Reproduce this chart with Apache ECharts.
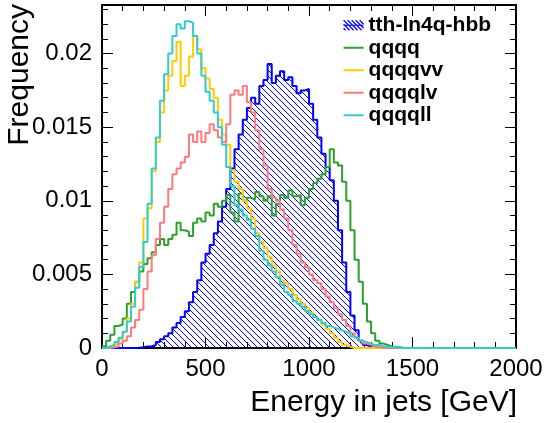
<!DOCTYPE html>
<html>
<head>
<meta charset="utf-8">
<script src="https://cdn.jsdelivr.net/npm/echarts@6/dist/echarts.min.js"></script>
<style>
html, body { margin: 0; padding: 0; background: #fff; }
#chart { width: 547px; height: 423px; }
</style>
</head>
<body>
<div id="chart"></div>
<script>
// histograms, 20 GeV bins from 0 to 2000 GeV
var binWidth = 20;

var tthLn4qHbb = [
    0, 0, 0, 0, 0, 0, 0, 0, 0.00002, 0.00005,
    0.0001, 0.0001, 0.0002, 0.0004, 0.0006, 0.0008, 0.0010, 0.0014, 0.0017, 0.0021,
    0.0025, 0.0031, 0.0038, 0.0046, 0.0058, 0.0064, 0.0070, 0.0078, 0.0086, 0.0096,
    0.0108, 0.0122, 0.0135, 0.0145, 0.0155, 0.0163, 0.0170, 0.0166, 0.0178, 0.0182,
    0.0193, 0.0180, 0.0185, 0.0188, 0.0182, 0.0184, 0.0178, 0.0173, 0.0175, 0.0176,
    0.0166, 0.0155, 0.0143, 0.0132, 0.0123, 0.0114, 0.0100, 0.0080, 0.0058, 0.0038,
    0.0022, 0.0012, 0.0005, 0.0002, 0.0001, 0, 0, 0, 0, 0,
    0, 0, 0, 0, 0, 0, 0, 0, 0, 0,
    0, 0, 0, 0, 0, 0, 0, 0, 0, 0,
    0, 0, 0, 0, 0, 0, 0, 0, 0, 0
];

var qqqq = [
    0.0001, 0.0005, 0.0009, 0.0015, 0.0016, 0.0020, 0.0030, 0.0038, 0.0045, 0.0052,
    0.0057, 0.0061, 0.0065, 0.0070, 0.0074, 0.0070, 0.0074, 0.0077, 0.0085, 0.0080,
    0.0079, 0.0076, 0.0085, 0.0088, 0.0086, 0.0092, 0.0090, 0.0098, 0.0096, 0.0100,
    0.0104, 0.0092, 0.0086, 0.0105, 0.0100, 0.0102, 0.0101, 0.0106, 0.0103, 0.0100,
    0.0103, 0.0090, 0.0098, 0.0104, 0.0102, 0.0107, 0.0103, 0.0104, 0.0097, 0.0102,
    0.0108, 0.0112, 0.0115, 0.0118, 0.0123, 0.0135, 0.0126, 0.0124, 0.0113, 0.0100,
    0.0080, 0.0060, 0.0045, 0.0030, 0.0018, 0.0010, 0.0005, 0.0003, 0.0002, 0.0001,
    0.00005, 0.00005, 0, 0, 0, 0, 0, 0, 0, 0,
    0, 0, 0, 0, 0, 0, 0, 0, 0, 0,
    0, 0, 0, 0, 0, 0, 0, 0, 0, 0
];

var qqqqvv = [
    0, 0.0001, 0.0002, 0.0003, 0.0006, 0.0011, 0.0020, 0.0030, 0.0045, 0.0058,
    0.0088, 0.0095, 0.0120, 0.0140, 0.0160, 0.0175, 0.0185, 0.0195, 0.0208, 0.0178,
    0.0185, 0.0198, 0.0212, 0.0203, 0.0190, 0.0183, 0.0176, 0.0170, 0.0155, 0.0145,
    0.0138, 0.0121, 0.0113, 0.0108, 0.0100, 0.0095, 0.0088, 0.0078, 0.0072, 0.0068,
    0.0062, 0.0056, 0.0052, 0.0046, 0.0044, 0.0040, 0.0036, 0.0033, 0.0030, 0.0027,
    0.0024, 0.0021, 0.0019, 0.0016, 0.0013, 0.0010, 0.0007, 0.0004, 0.0002, 0.0001,
    0, 0, 0, 0, 0, 0, 0, 0, 0, 0,
    0, 0, 0, 0, 0, 0, 0, 0, 0, 0,
    0, 0, 0, 0, 0, 0, 0, 0, 0, 0,
    0, 0, 0, 0, 0, 0, 0, 0, 0, 0
];

var qqqqlv = [
    0, 0, 0.00005, 0.0001, 0.0003, 0.0005, 0.0008, 0.0014, 0.0019, 0.0026,
    0.0040, 0.0052, 0.0063, 0.0074, 0.0085, 0.0096, 0.0108, 0.0118, 0.0122, 0.0126,
    0.0130, 0.0145, 0.0140, 0.0147, 0.0140, 0.0146, 0.0152, 0.0148, 0.0143, 0.0140,
    0.0152, 0.0172, 0.0175, 0.0172, 0.0178, 0.0167, 0.0160, 0.0148, 0.0135, 0.0124,
    0.0108, 0.0102, 0.0100, 0.0094, 0.0088, 0.0080, 0.0070, 0.0064, 0.0058, 0.0055,
    0.0050, 0.0046, 0.0044, 0.0040, 0.0035, 0.0031, 0.0027, 0.0023, 0.0019, 0.0015,
    0.0010, 0.0007, 0.0005, 0.0003, 0.0002, 0.0001, 0.00005, 0, 0, 0,
    0, 0, 0, 0, 0, 0, 0, 0, 0, 0,
    0, 0, 0, 0, 0, 0, 0, 0, 0, 0,
    0, 0, 0, 0, 0, 0, 0, 0, 0, 0
];

var qqqqll = [
    0, 0.0001, 0.0002, 0.0004, 0.0007, 0.0011, 0.0018, 0.0028, 0.0041, 0.0055,
    0.0072, 0.0098, 0.0122, 0.0143, 0.0168, 0.0186, 0.0200, 0.0212, 0.0220, 0.0217,
    0.0222, 0.0221, 0.0212, 0.0200, 0.0185, 0.0174, 0.0168, 0.0160, 0.0150, 0.0138,
    0.0123, 0.0110, 0.0097, 0.0094, 0.0090, 0.0087, 0.0081, 0.0076, 0.0066, 0.0060,
    0.0056, 0.0052, 0.0048, 0.0043, 0.0038, 0.0036, 0.0032, 0.0030, 0.0028, 0.0025,
    0.0023, 0.0021, 0.0019, 0.0017, 0.0015, 0.0014, 0.0013, 0.0012, 0.0011, 0.0010,
    0.0008, 0.0007, 0.0005, 0.0004, 0.0003, 0.0002, 0.0002, 0.0001, 0.0001, 0.00005,
    0.00005, 0, 0, 0, 0, 0, 0, 0, 0, 0,
    0, 0, 0, 0, 0, 0, 0, 0, 0, 0,
    0, 0, 0, 0, 0, 0, 0, 0, 0, 0
];

var xTicks = {min: 0, max: 2000, interval: 500};
var yTicks = {min: 0, max: 0.0233, interval: 0.005};

var font = "'Liberation Sans', Arial, Helvetica, sans-serif";

// bin values -> points at bin edges, drawn as steps
function toSteps(values) {
    var pts = values.map(function (v, i) { return [i * binWidth, v]; });
    pts.push([values.length * binWidth, values[values.length - 1]]);
    return pts;
}

// blue "\\\" hatching like ROOT fill style 3005
var hatch = document.createElement('canvas');
hatch.width = 6;
hatch.height = 6;
var hctx = hatch.getContext('2d');
hctx.strokeStyle = '#0000ff';
hctx.lineWidth = 1;
hctx.beginPath();
[-6, 0, 6].forEach(function (c) {
    hctx.moveTo(c, 0);
    hctx.lineTo(c + 6, 6);
});
hctx.stroke();

function makeAxis(pos, range, showLabels, isX) {
    return {
        type: 'value',
        position: pos,
        min: range.min,
        max: range.max,
        interval: range.interval,
        axisLine: {show: true, onZero: false, lineStyle: {color: '#000', width: 2}},
        axisTick: {show: true, inside: true, length: 11, lineStyle: {color: '#000', width: 1}},
        minorTick: {show: true, splitNumber: 5, length: 6, lineStyle: {color: '#000', width: 1}},
        splitLine: {show: false},
        minorSplitLine: {show: false},
        axisLabel: {
            show: showLabels,
            showMaxLabel: isX ? true : false,
            color: '#000',
            fontSize: 24,
            fontFamily: font,
            margin: isX ? 9 : 10,
            formatter: function (v) { return String(v); }
        }
    };
}

function histSeries(name, values, color) {
    return {
        name: name,
        type: 'line',
        step: 'end',
        symbol: 'none',
        showSymbol: false,
        data: toSteps(values),
        lineStyle: {color: color, width: 2},
        itemStyle: {color: color},
        emphasis: {disabled: true}
    };
}

var lineIcon = 'path://M0,0 L20,0 L20,2 L0,2 Z';
var hatchIcon = 'path://M0,8 L2,10 M0,4 L6,10 M0,0 L10,10 M4,0 L14,10 M8,0 L18,10 M12,0 L20,8 M16,0 L20,4 M0,5 L20,5';

var myChart = echarts.init(document.getElementById('chart'));

var blue = histSeries('tth-ln4q-hbb', tthLn4qHbb, '#0000ff');
blue.areaStyle = {color: {image: hatch, repeat: 'repeat'}, opacity: 1};

var option = {
    animation: false,
    backgroundColor: '#fff',
    grid: {left: 102, right: 31, top: 5, bottom: 75, containLabel: false},
    xAxis: [makeAxis('bottom', xTicks, true, true), makeAxis('top', xTicks, false, true)],
    yAxis: [makeAxis('left', yTicks, true, false), makeAxis('right', yTicks, false, false)],
    legend: {
        orient: 'vertical',
        left: 343,
        top: 14,
        padding: 0,
        itemGap: 0,
        itemWidth: 20,
        itemHeight: 10,
        selectedMode: false,
        itemStyle: {borderWidth: 0},
        textStyle: {fontSize: 21, fontWeight: 'bold', fontFamily: font, color: '#000', lineHeight: 22.5},
        data: [
            {name: 'tth-ln4q-hbb', icon: hatchIcon,
             itemStyle: {color: 'transparent', borderColor: '#0000ff', borderWidth: 1.2}},
            {name: 'qqqq', icon: lineIcon},
            {name: 'qqqqvv', icon: lineIcon},
            {name: 'qqqqlv', icon: lineIcon},
            {name: 'qqqqll', icon: lineIcon}
        ]
    },
    graphic: [
        {
            type: 'text',
            x: 517,
            y: 403,
            style: {text: 'Energy in jets [GeV]', font: '30px ' + font, fill: '#000',
                    textAlign: 'right', textVerticalAlign: 'middle'}
        },
        {
            type: 'text',
            x: 20,
            y: 4,
            rotation: Math.PI / 2,
            style: {text: 'Frequency', font: '30px ' + font, fill: '#000',
                    textAlign: 'right', textVerticalAlign: 'middle'}
        }
    ],
    series: [
        blue,
        histSeries('qqqq', qqqq, '#2ca02c'),
        histSeries('qqqqvv', qqqqvv, '#ffcc00'),
        histSeries('qqqqlv', qqqqlv, '#ff7a7a'),
        histSeries('qqqqll', qqqqll, '#33cccc')
    ]
};

myChart.setOption(option);
</script>
</body>
</html>
